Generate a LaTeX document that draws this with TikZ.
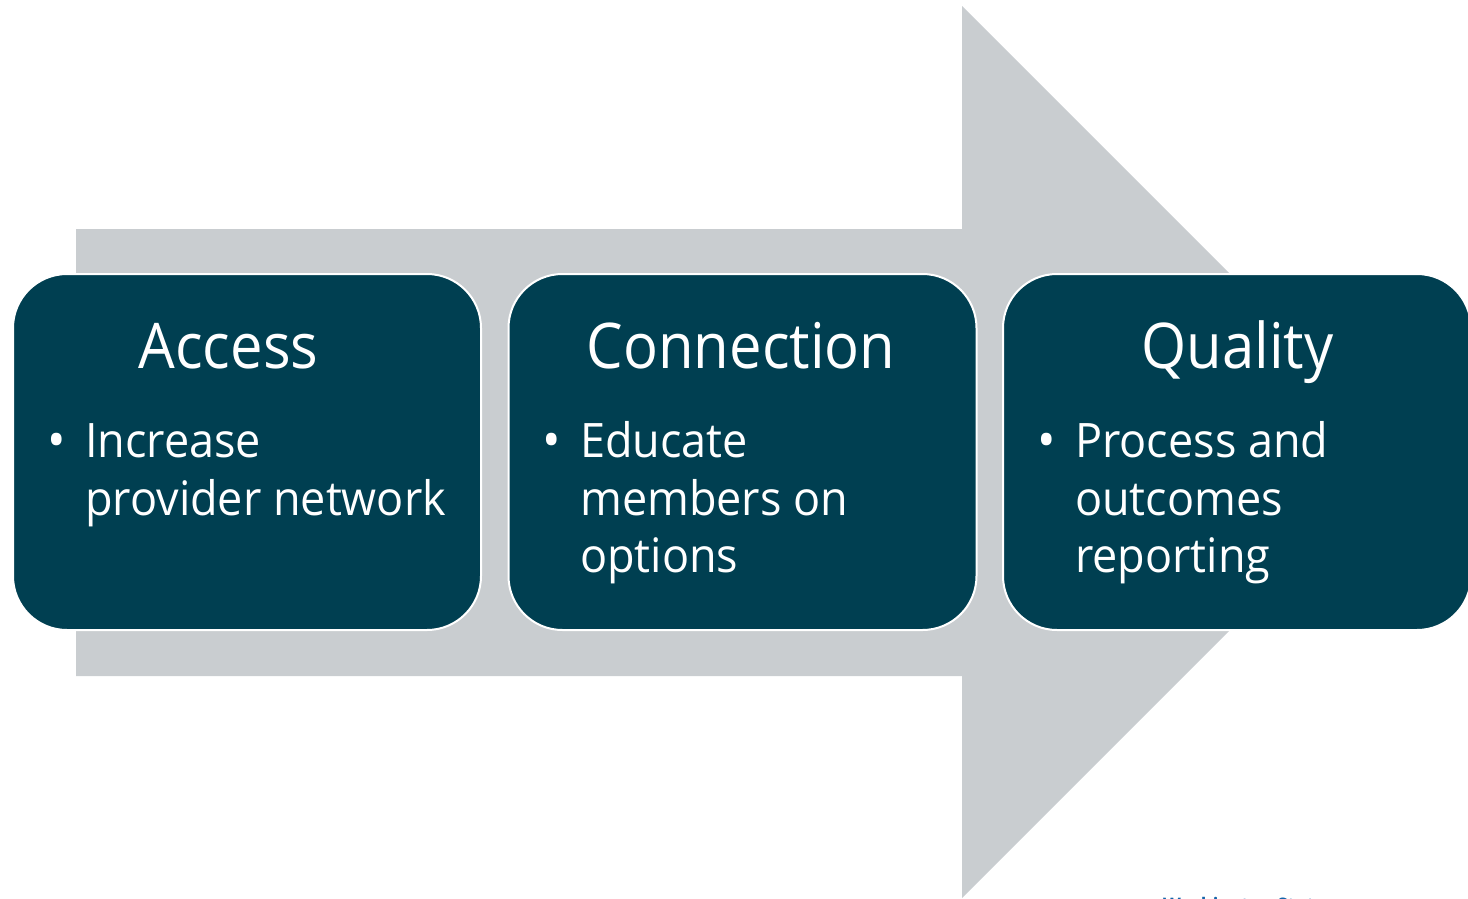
\documentclass[tikz,border=0pt]{standalone}
\usepackage{fontspec}
\setmainfont{Open Sans}[FakeStretch=0.92]
\newfontfamily\bodyfont{Open Sans}[FakeStretch=0.947]
\definecolor{boxteal}{RGB}{0,63,81}
\definecolor{arrowgrey}{RGB}{201,205,208}
\definecolor{wsblue}{RGB}{20,100,170}
\tikzset{
  stagebox/.style={draw=white, line width=2pt, fill=boxteal, rounded corners=54pt,
    minimum width=468pt, minimum height=356pt, inner sep=0pt},
  titletext/.style={font=\fontsize{63}{63}\selectfont, text=white, inner sep=0pt, anchor=base},
  bodytext/.style={font=\bodyfont\fontsize{47.5}{47.5}\selectfont, text=white, inner sep=0pt, anchor=base west},
  bullettext/.style={font=\bodyfont\fontsize{52}{52}\selectfont, text=white, inner sep=0pt, anchor=base}
}
\begin{document}
\begin{tikzpicture}[x=1pt,y=-1pt]
\useasboundingbox (0,0) rectangle (1468,898);
\clip (0,0) rectangle (1468,898);
% big arrow
\fill[arrowgrey] (76,229) -- (962,229) -- (962,6) -- (1408,452) -- (962,898) -- (962,676) -- (76,676) -- cycle;
% boxes
\node[stagebox] (b1) at (247,452) {};
\node[stagebox] (b2) at (742.5,452) {};
\node[stagebox] (b3) at (1237,452) {};
% titles
\node[titletext] (t1) at (228.5,368) {Access};
\node[titletext] (t2) at (741,368) {Connection};
\node[titletext] (t3) at (1237.5,368) {Quality};
% bullets
\node[bullettext] (u1) at (57,458) {•};
\node[bullettext] (u2) at (552,458) {•};
\node[bullettext] (u3) at (1047,458) {•};
% body lines
\node[bodytext] (a1) at (85,457) {Increase};
\node[bodytext] (a2) at (85,515) {provider network};
\node[bodytext] (c1) at (580,457) {Educate};
\node[bodytext] (c2) at (580,515) {members on};
\node[bodytext] (c3) at (580,572) {options};
\node[bodytext] (q1) at (1075,457) {Process and};
\node[bodytext] (q2) at (1075,515) {outcomes};
\node[bodytext] (q3) at (1075,572) {reporting};
% cut-off footer text
\node[anchor=base west, inner sep=0pt, text=wsblue, font=\bfseries\fontsize{20}{20}\selectfont] (ws) at (1163,912) {Washington State};
\end{tikzpicture}
\end{document}
